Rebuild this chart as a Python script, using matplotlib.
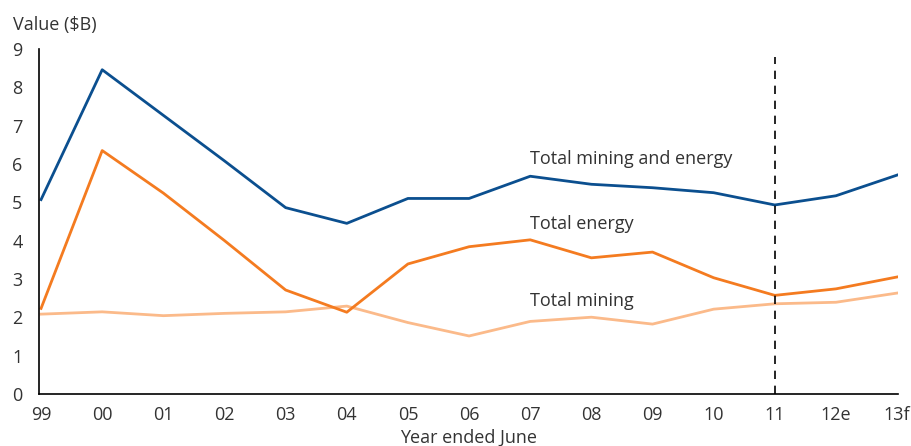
import matplotlib.pyplot as plt

plt.rcParams['font.family'] = ['Open Sans', 'DejaVu Sans']

# financial years ending June, with estimate/forecast tails
years = ['99', '00', '01', '02', '03', '04', '05', '06', '07', '08', '09', '10', '11', '12e', '13f']
total_mining_energy = [5.07, 8.46, 7.27, 6.08, 4.86, 4.45, 5.10, 5.10, 5.68, 5.47, 5.38, 5.25, 4.93, 5.17, 5.71]
total_energy = [2.23, 6.35, 5.24, 4.00, 2.71, 2.13, 3.39, 3.84, 4.02, 3.55, 3.70, 3.03, 2.57, 2.74, 3.05]
total_mining = [2.08, 2.14, 2.04, 2.10, 2.14, 2.29, 1.86, 1.51, 1.89, 2.00, 1.82, 2.21, 2.35, 2.39, 2.63]

blue = '#0b4f8f'
orange = '#f47b20'
light = '#fbba8a'
text_col = '#333333'
fs = 13

fig = plt.figure(figsize=(9.12, 4.46), dpi=100)
ax = fig.add_axes([0.043, 0.117, 0.942, 0.773])

x = list(range(len(years)))
ax.plot(x, total_mining, color=light, lw=2)
ax.plot(x, total_energy, color=orange, lw=2)
ax.plot(x, total_mining_energy, color=blue, lw=2)

# actuals / estimates divider
ax.vlines(12, 0, 8.8, colors='black', linestyles=(0, (5, 4)), lw=1.2)

ax.text(8, 6.13, 'Total mining and energy', fontsize=fs, color=text_col, va='center')
ax.text(8, 4.43, 'Total energy', fontsize=fs, color=text_col, va='center')
ax.text(8, 2.43, 'Total mining', fontsize=fs, color=text_col, va='center')

ax.set_xlim(-0.03, 14.02)
ax.set_ylim(0, 9)
ax.set_xticks(x)
ax.set_xticklabels(years)
ax.set_yticks(range(10))
ax.tick_params(length=0, labelsize=fs, labelcolor=text_col)
ax.tick_params(axis='x', pad=9)
ax.tick_params(axis='y', pad=12)

for s in ['top', 'right']:
    ax.spines[s].set_visible(False)
for s in ['left', 'bottom']:
    ax.spines[s].set_color('black')
    ax.spines[s].set_linewidth(1.2)

ax.set_xlabel('Year ended June', fontsize=fs, color=text_col, labelpad=3)
fig.text(0.014, 0.943, 'Value ($B)', fontsize=fs, color=text_col, va='center')

fig.savefig('out.png', dpi=100)
